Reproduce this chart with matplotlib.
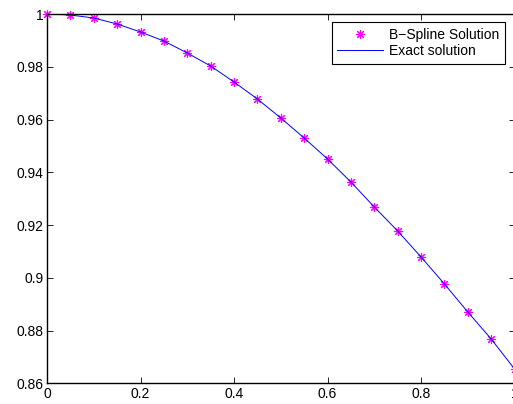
import matplotlib
matplotlib.use("Agg")
import matplotlib.pyplot as plt

plt.rcParams['font.family'] = ['Liberation Sans', 'DejaVu Sans']

x_vals = [0.0, 0.05, 0.1, 0.15, 0.2, 0.25, 0.3, 0.35, 0.4, 0.45, 0.5,
          0.55, 0.6, 0.65, 0.7, 0.75, 0.8, 0.85, 0.9, 0.95, 1.0]
bspline = [1.0, 0.99962, 0.99848, 0.99621, 0.99318, 0.98976, 0.98522, 0.98029,
           0.97422, 0.96778, 0.96058, 0.95300, 0.94504, 0.93632, 0.92685,
           0.91775, 0.90790, 0.89767, 0.88705, 0.87682, 0.86545]
exact = [1.0, 0.99962, 0.99848, 0.99621, 0.99318, 0.98976, 0.98522, 0.98029,
         0.97422, 0.96778, 0.96058, 0.95300, 0.94504, 0.93632, 0.92685,
         0.91775, 0.90790, 0.89767, 0.88705, 0.87682, 0.86545]
xticks = [0, 0.2, 0.4, 0.6, 0.8, 1.0]
xticklabels = ['0', '0.2', '0.4', '0.6', '0.8', '1']
yticks = [0.86, 0.88, 0.9, 0.92, 0.94, 0.96, 0.98, 1.0]
yticklabels = ['0.86', '0.88', '0.9', '0.92', '0.94', '0.96', '0.98', '1']

W, H = 513, 404
fig = plt.figure(figsize=(W / 100, H / 100), dpi=100)
left, right, top, bottom = 47, 514.5, 14, 383.3
ax = fig.add_axes([left / W, 1 - bottom / H, (right - left) / W, (bottom - top) / H])

ax.plot(x_vals, bspline, linestyle='none', marker=(8, 2, 0), markersize=6.5,
        markeredgewidth=0.8, color='#ff00ff', label='B\u2212Spline Solution', clip_on=False)
ax.plot(x_vals, exact, color='#0000ff', linewidth=0.7, label='Exact solution')

ax.set_xlim(0, 1)
ax.set_ylim(0.86, 1.0)
ax.set_xticks(xticks)
ax.set_xticklabels(xticklabels)
ax.set_yticks(yticks)
ax.set_yticklabels(yticklabels)
ax.tick_params(direction='in', top=True, right=True, length=4, width=0.6,
               labelsize=10, pad=2.5)
for s in ax.spines.values():
    s.set_linewidth(1.0)

leg = ax.legend(loc='upper right', bbox_to_anchor=(505 / W, 1 - 22 / H),
                bbox_transform=fig.transFigure, fontsize=10, frameon=True,
                fancybox=False, edgecolor='black', framealpha=1,
                handlelength=3.3, borderpad=0.4, labelspacing=0.2,
                handletextpad=0.45, borderaxespad=0)
leg.get_frame().set_linewidth(0.8)

fig.savefig('out.png', dpi=100)
